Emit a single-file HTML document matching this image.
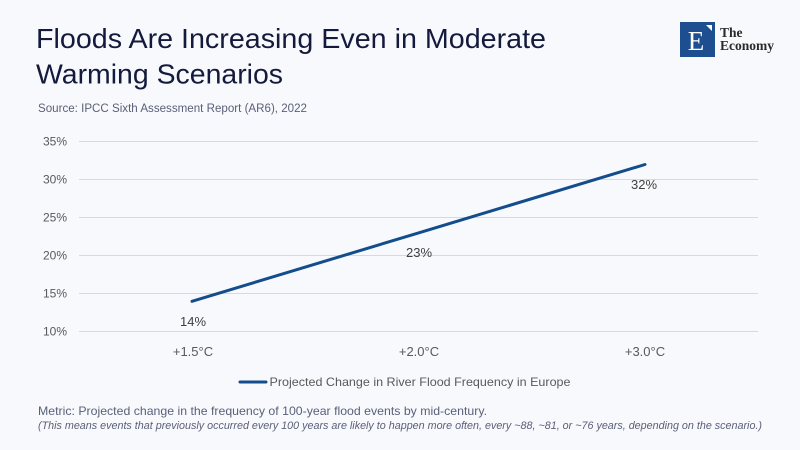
<!DOCTYPE html>
<html>
<head>
<meta charset="utf-8">
<style>
html,body{margin:0;padding:0;background:#f8f9fd;}
svg{display:block;}
text{font-family:"Liberation Sans",sans-serif;}
text.serif{font-family:"Liberation Serif",serif;}
</style>
</head>
<body>
<svg width="800" height="450" viewBox="0 0 800 450" xmlns="http://www.w3.org/2000/svg">
<rect x="0" y="0" width="800" height="450" fill="#f8f9fd"/>
<!-- Title -->
<text x="36" y="48" font-size="28" fill="#141a3c" textLength="510" lengthAdjust="spacingAndGlyphs">Floods Are Increasing Even in Moderate</text>
<text x="36" y="83.5" font-size="28" fill="#141a3c" textLength="247" lengthAdjust="spacingAndGlyphs">Warming Scenarios</text>
<text x="38" y="112" font-size="11.5" fill="#5a6078" textLength="269" lengthAdjust="spacingAndGlyphs">Source: IPCC Sixth Assessment Report (AR6), 2022</text>
<!-- Logo -->
<rect x="680" y="22" width="35" height="35" fill="#1d4e8f"/>
<text class="serif" x="696" y="50" font-size="27" fill="#ffffff" text-anchor="middle">E</text>
<polygon points="706,25 712,25 712,31" fill="#ffffff"/>
<text class="serif" x="720" y="37" font-size="13.5" font-weight="bold" fill="#2a2a2a">The</text>
<text class="serif" x="720" y="50" font-size="13.5" font-weight="bold" fill="#2a2a2a" textLength="54" lengthAdjust="spacingAndGlyphs">Economy</text>
<!-- Gridlines -->
<g stroke="#d9d9d9" stroke-width="1">
<line x1="79" y1="141.5" x2="758" y2="141.5"/>
<line x1="79" y1="179.5" x2="758" y2="179.5"/>
<line x1="79" y1="217.5" x2="758" y2="217.5"/>
<line x1="79" y1="255.5" x2="758" y2="255.5"/>
<line x1="79" y1="293.5" x2="758" y2="293.5"/>
<line x1="79" y1="331.5" x2="758" y2="331.5"/>
</g>
<!-- Y labels -->
<g font-size="12" fill="#595959" text-anchor="end">
<text x="67" y="145.5">35%</text>
<text x="67" y="183.5">30%</text>
<text x="67" y="221.5">25%</text>
<text x="67" y="259.5">20%</text>
<text x="67" y="297.5">15%</text>
<text x="67" y="335.5">10%</text>
</g>
<!-- X labels -->
<g font-size="13" fill="#595959" text-anchor="middle">
<text x="193" y="356">+1.5°C</text>
<text x="419" y="356">+2.0°C</text>
<text x="645" y="356">+3.0°C</text>
</g>
<!-- Line -->
<polyline points="192,301.3 418.5,232.9 645,164.5" fill="none" stroke="#134d8c" stroke-width="3" stroke-linecap="round" stroke-linejoin="round"/>
<!-- Data labels -->
<g font-size="13" fill="#404040" text-anchor="middle">
<text x="193" y="326">14%</text>
<text x="419" y="257">23%</text>
<text x="644" y="189">32%</text>
</g>
<!-- Legend -->
<line x1="240" y1="382" x2="266" y2="382" stroke="#134d8c" stroke-width="3" stroke-linecap="round"/>
<text x="269.5" y="386" font-size="12" fill="#595959" textLength="301" lengthAdjust="spacingAndGlyphs">Projected Change in River Flood Frequency in Europe</text>
<!-- Footnotes -->
<text x="38" y="415" font-size="12" fill="#5a6078" textLength="449" lengthAdjust="spacingAndGlyphs">Metric: Projected change in the frequency of 100-year flood events by mid-century.</text>
<text x="38" y="429" font-size="11" font-style="italic" fill="#5a6078" textLength="724" lengthAdjust="spacingAndGlyphs">(This means events that previously occurred every 100 years are likely to happen more often, every ~88, ~81, or ~76 years, depending on the scenario.)</text>
</svg>
</body>
</html>
